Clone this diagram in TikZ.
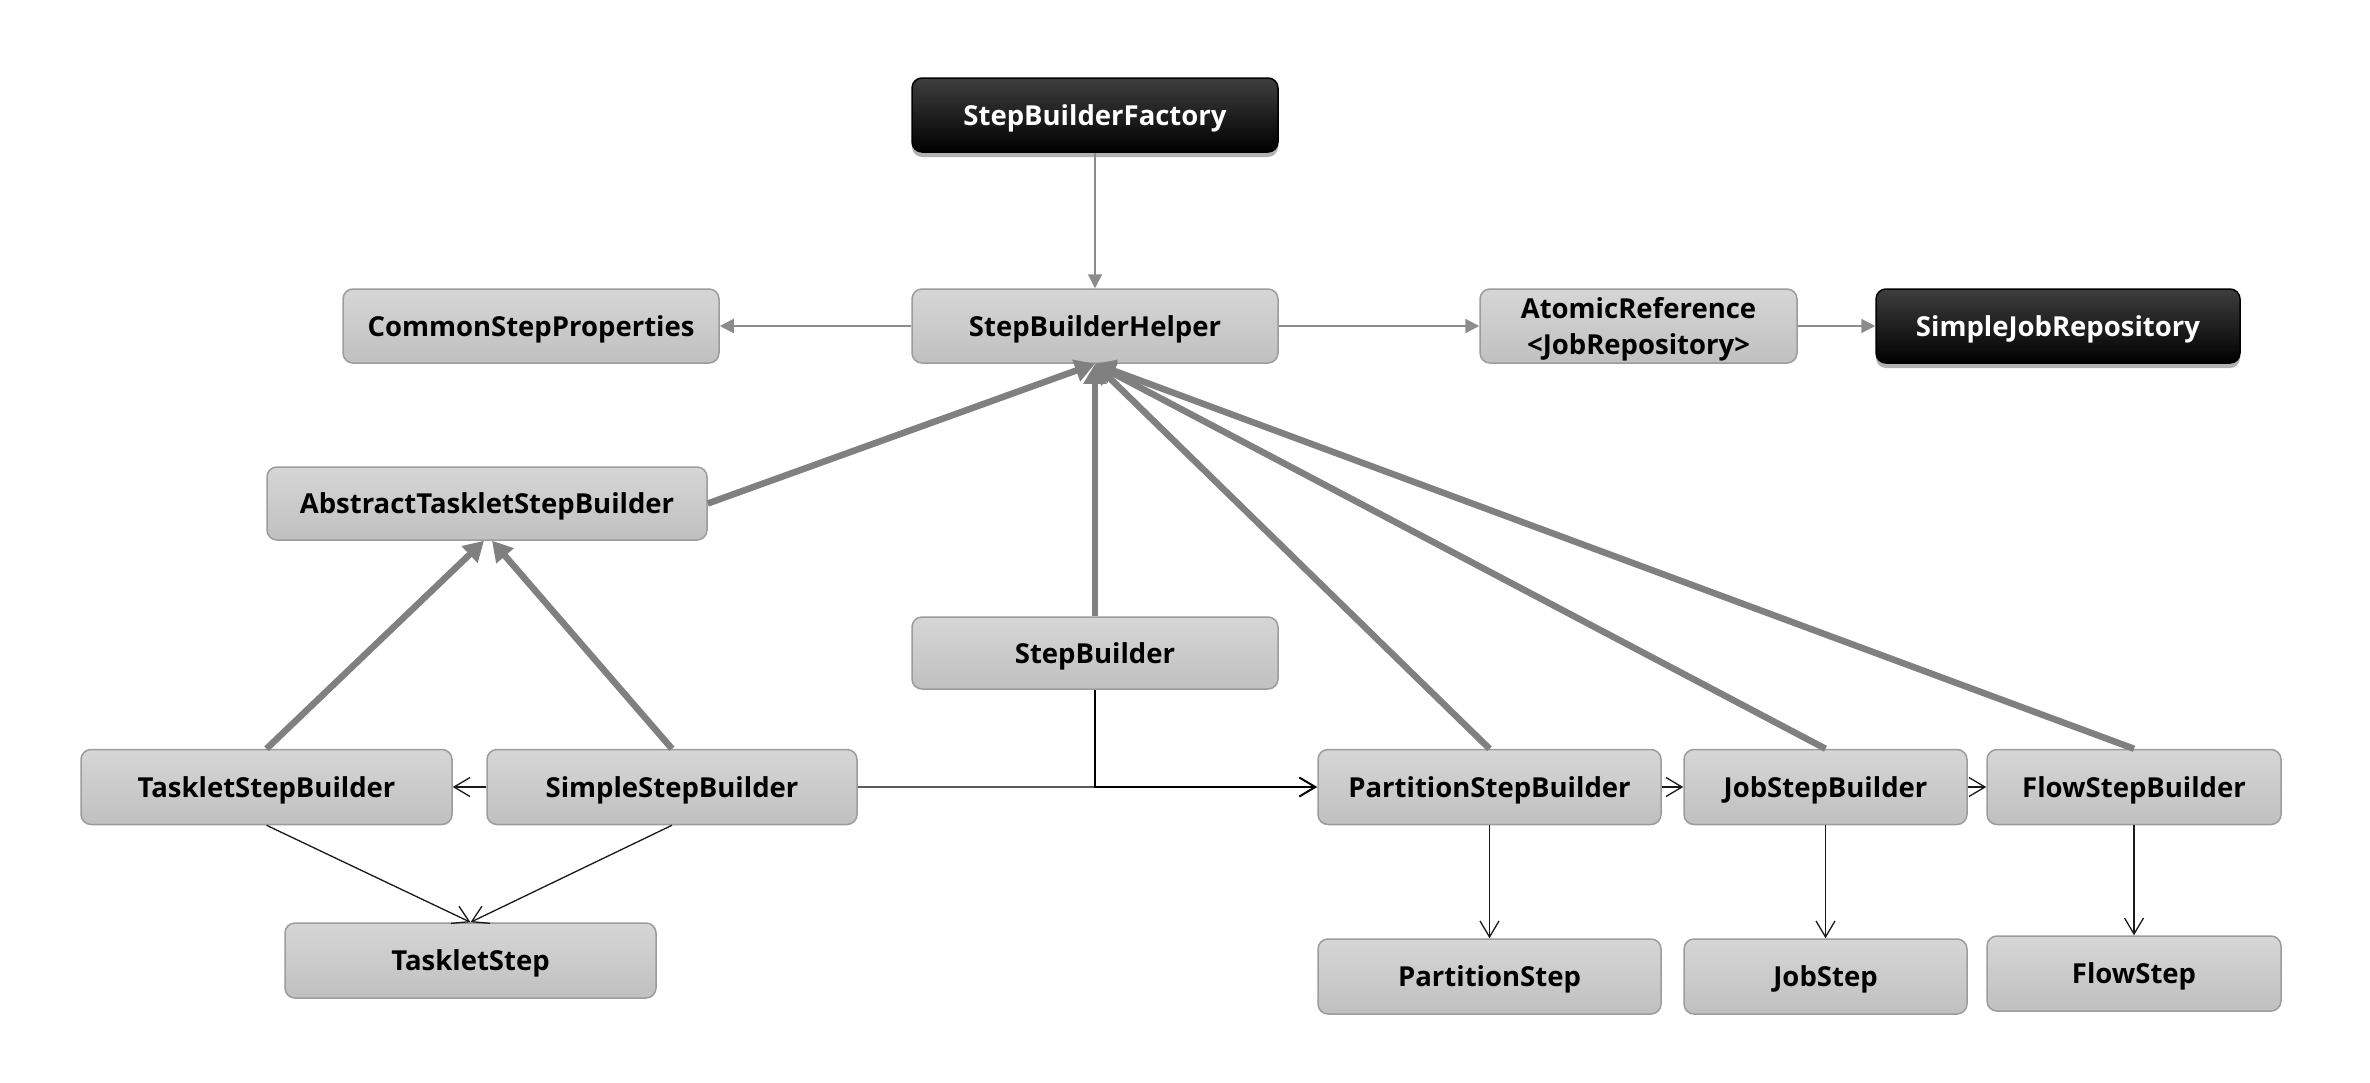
\documentclass[tikz,border=0pt]{standalone}
\usepackage{fontspec}
\setmainfont{Open Sans}
\usetikzlibrary{arrows.meta,shadows,shadings}
\definecolor{boxtop}{HTML}{D6D6D6}
\definecolor{boxbot}{HTML}{C0C0C0}
\definecolor{boxline}{HTML}{9C9C9C}
\definecolor{darktop}{HTML}{3E3E3E}
\definecolor{thickgray}{HTML}{808080}
\definecolor{midgray}{HTML}{8C8C8C}
\definecolor{thinline}{HTML}{1A1A1A}
\begin{document}
\begin{tikzpicture}[x=1pt,y=-1pt,
  box/.style={draw=boxline, line width=1.5pt, rounded corners=10pt,
    top color=boxtop, bottom color=boxbot, text=black,
    font=\fontsize{27.5}{36}\selectfont\bfseries, inner sep=0pt, align=center,
    text height=20pt, text depth=0pt},
  darkbox/.style={box, draw=black, top color=darktop, bottom color=black, text=white,
    drop shadow={shadow xshift=0pt, shadow yshift=-5pt, fill=black, opacity=0.3}},
  thickarrow/.style={draw=thickgray, line width=6.5pt, -{Triangle[length=20pt,width=22pt]}},
  midarrow/.style={draw=midgray, line width=2pt, -{Triangle[length=14pt,width=14pt]}},
  thinarrow/.style={draw=thinline, line width=1.3pt, -{Straight Barb[length=16pt,width=19pt]}},
]
\useasboundingbox[fill=white] (0,0) rectangle (2370,1082);

% nodes
\node[darkbox, minimum width=366pt, minimum height=74pt] (fac) at (1095,115) {StepBuilderFactory};
\node[box, minimum width=366pt, minimum height=74pt] (helper) at (1095,326) {StepBuilderHelper};
\node[box, minimum width=376pt, minimum height=74pt] (common) at (531,326) {CommonStepProperties};
\node[box, minimum width=317pt, minimum height=74pt, text height=56pt] (atomic) at (1638.5,326) {AtomicReference\\<JobRepository>};
\node[darkbox, minimum width=364pt, minimum height=74pt] (sjr) at (2058,326) {SimpleJobRepository};
\node[box, minimum width=440pt, minimum height=73pt] (abstract) at (487,503.5) {AbstractTaskletStepBuilder};
\node[box, minimum width=366pt, minimum height=72pt] (sb) at (1095,653) {StepBuilder};
\node[box, minimum width=371pt, minimum height=75pt] (tsb) at (266.5,787) {TaskletStepBuilder};
\node[box, minimum width=370pt, minimum height=75pt] (ssb) at (672,787) {SimpleStepBuilder};
\node[box, minimum width=343pt, minimum height=75pt] (psb) at (1489.5,787) {PartitionStepBuilder};
\node[box, minimum width=283pt, minimum height=75pt] (jsb) at (1825.5,787) {JobStepBuilder};
\node[box, minimum width=294pt, minimum height=75pt] (fsb) at (2134,787) {FlowStepBuilder};
\node[box, minimum width=371pt, minimum height=75pt] (ts) at (470.5,960.5) {TaskletStep};
\node[box, minimum width=343pt, minimum height=75pt] (ps) at (1489.5,976.5) {PartitionStep};
\node[box, minimum width=283pt, minimum height=75pt] (js) at (1825.5,976.5) {JobStep};
\node[box, minimum width=294pt, minimum height=75pt] (fs) at (2134,973.5) {FlowStep};

% medium gray arrows
\draw[midarrow] (fac.south) -- (helper.north);
\draw[midarrow] (helper.west) -- (common.east);
\draw[midarrow] (helper.east) -- (atomic.west);
\draw[midarrow] (atomic.east) -- (sjr.west);

% thick inheritance arrows
\draw[thickarrow] (abstract.east) -- (helper.south);
\draw[thickarrow] (sb.north) -- (helper.south);
\draw[thickarrow] (psb.north) -- (helper.south);
\draw[thickarrow] (jsb.north) -- (helper.south);
\draw[thickarrow] (fsb.north) -- (helper.south);
\draw[thickarrow] (tsb.north) -- ([xshift=-3pt]abstract.south);
\draw[thickarrow] (ssb.north) -- ([xshift=5pt]abstract.south);

% thin arrows
\coordinate (jn) at (sb.south |- ssb.east);
\draw[draw=black!65, line width=1.3pt] (ssb.east) -- (jn);
\draw[thinarrow, draw=black, line width=2pt] (sb.south) -- (jn) -- (psb.west);
\draw[thinarrow] (ssb.west) -- (tsb.east);
\draw[thinarrow] (psb.east) -- (jsb.west);
\draw[thinarrow] (jsb.east) -- (fsb.west);
\draw[thinarrow] (psb.south) -- (ps.north);
\draw[thinarrow] (jsb.south) -- (js.north);
\draw[thinarrow] (fsb.south) -- (fs.north);
\draw[thinarrow] (tsb.south) -- (ts.north);
\draw[thinarrow] (ssb.south) -- (ts.north);
\end{tikzpicture}
\end{document}
